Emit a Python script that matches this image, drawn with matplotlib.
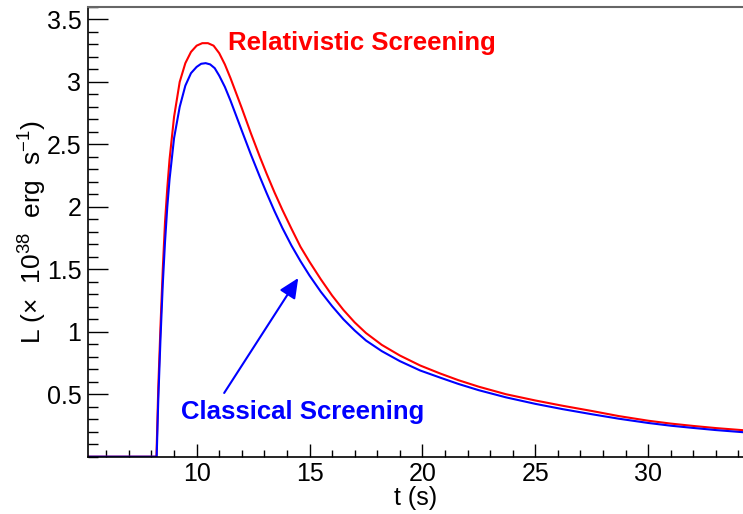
import numpy as np
import matplotlib
matplotlib.use("Agg")
import matplotlib.pyplot as plt
from matplotlib.ticker import MultipleLocator

plt.rcParams['font.family'] = ['Liberation Sans', 'DejaVu Sans']
plt.rcParams['mathtext.fontset'] = 'custom'
plt.rcParams['mathtext.rm'] = 'Liberation Sans'

# light curves (t in s, L in 1e38 erg/s)
t_rel = [5.2, 8.22, 8.3, 8.4, 8.5, 8.6, 8.7, 8.8, 9.0, 9.25, 9.5, 9.75, 10.0,
         10.25, 10.5, 10.75, 11.0, 11.25, 11.5, 11.75, 12.0, 12.4, 12.8, 13.1,
         13.45, 13.8, 14.2, 14.6, 15.0, 15.5, 16.0, 16.5, 17.0, 17.5, 18.2,
         19.0, 19.9, 20.8, 21.6, 22.5, 23.7, 25.0, 26.2, 27.5, 28.7, 30.0,
         31.0, 32.0, 33.0, 34.2]
L_rel = [0.0, 0.0, 0.55, 1.05, 1.5, 1.88, 2.15, 2.38, 2.72, 3.0, 3.15, 3.24, 3.29,
         3.31, 3.31, 3.29, 3.23, 3.14, 3.03, 2.91, 2.79, 2.59, 2.40, 2.265,
         2.115, 1.975, 1.825, 1.68, 1.56, 1.42, 1.29, 1.175, 1.075, 0.99, 0.895,
         0.81, 0.73, 0.665, 0.612, 0.56, 0.50, 0.45, 0.408, 0.366, 0.325, 0.288,
         0.265, 0.246, 0.229, 0.212]

t_cls = [5.2, 8.23, 8.3, 8.4, 8.5, 8.6, 8.7, 8.8, 9.0, 9.25, 9.5, 9.75, 10.0,
         10.2, 10.4, 10.6, 10.8, 11.0, 11.25, 11.5, 11.75, 12.0, 12.4, 12.8,
         13.1, 13.45, 13.8, 14.2, 14.6, 15.0, 15.5, 16.0, 16.5, 17.0, 17.5,
         18.2, 19.0, 19.9, 20.8, 21.6, 22.5, 23.7, 25.0, 26.2, 27.5, 28.7,
         30.0, 31.0, 32.0, 33.0, 34.2]
L_cls = [0.0, 0.0, 0.45, 0.95, 1.38, 1.72, 2.0, 2.22, 2.55, 2.8, 2.97, 3.07, 3.12,
         3.145, 3.15, 3.14, 3.11, 3.05, 2.96, 2.85, 2.73, 2.61, 2.42, 2.24,
         2.11, 1.965, 1.83, 1.69, 1.565, 1.45, 1.32, 1.205, 1.10, 1.01, 0.93,
         0.845, 0.765, 0.69, 0.632, 0.582, 0.532, 0.475, 0.423, 0.381, 0.34, 0.304,
         0.27, 0.248, 0.23, 0.213, 0.196]

fig = plt.figure(figsize=(7.43, 5.14), dpi=100)
ax = fig.add_axes([0.1188, 0.1115, 0.8812, 0.875])

ax.plot(t_rel, L_rel, color='#ff0000', lw=1.5)
ax.plot(t_cls, L_cls, color='#0000ff', lw=1.5)

ax.set_xlim(5.2, 34.2)
ax.set_ylim(0, 3.6)

ax.xaxis.set_major_locator(MultipleLocator(5))
ax.xaxis.set_minor_locator(MultipleLocator(1))
ax.yaxis.set_major_locator(MultipleLocator(0.5))
ax.yaxis.set_minor_locator(MultipleLocator(0.1))
ax.set_yticks([0.5, 1, 1.5, 2, 2.5, 3, 3.5])
ax.set_yticklabels(['0.5', '1', '1.5', '2', '2.5', '3', '3.5'])
ax.set_xticks([10, 15, 20, 25, 30])

ax.tick_params(axis='x', which='major', direction='in', length=9.5, width=1.0,
               labelsize=18, pad=4)
ax.tick_params(axis='x', which='minor', direction='in', length=4.7, width=1.0)
ax.tick_params(axis='y', which='major', direction='in', length=14.5, width=1.0,
               labelsize=18, pad=5)
ax.tick_params(axis='y', which='minor', direction='in', length=7.2, width=1.0)

ax.spines['right'].set_visible(False)
ax.spines['top'].set_color('#666666')
ax.spines['top'].set_linewidth(1.5)
for s in ['left', 'bottom']:
    ax.spines[s].set_linewidth(1.2)

ax.set_xlabel('t (s)', fontsize=18, labelpad=0)
ax.set_ylabel('L (\u00d7  10$^{38}$  erg  s$^{-1}$)', fontsize=19, labelpad=-1)

ax.text(11.39, 3.31, 'Relativistic Screening', color='#ff0000', fontsize=18.5,
        fontweight='bold', ha='left', va='center')
ax.text(9.3, 0.36, 'Classical Screening', color='#0000ff', fontsize=18.5,
        fontweight='bold', ha='left', va='center')
ax.annotate('', xy=(14.5, 1.43), xytext=(11.22, 0.51),
            arrowprops=dict(arrowstyle='-|>,head_length=1.2,head_width=0.55',
                            color='#0000ff', lw=1.5, shrinkA=0, shrinkB=0))

fig.savefig('out.png', dpi=100, facecolor='white')
